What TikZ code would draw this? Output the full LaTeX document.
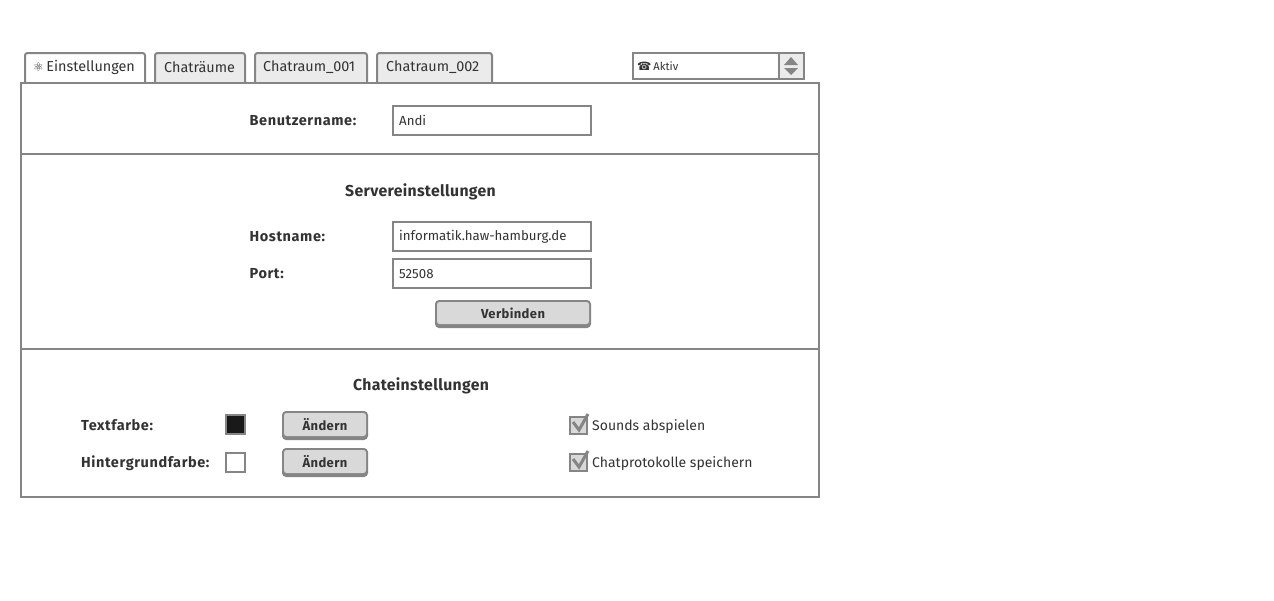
\documentclass[tikz,border=0pt]{standalone}
\usepackage{fontspec}
\setmainfont{Fira Sans}
\newfontfamily\symfont{DejaVu Sans}
\definecolor{edge}{HTML}{858585}
\definecolor{tabgrey}{HTML}{EBEBEB}
\definecolor{btngrey}{HTML}{D9D9D9}
\definecolor{ink}{HTML}{333333}
\tikzset{
  x=1pt,y=-1pt,
  panel/.style={draw=edge,line width=2pt,fill=white},
  tabshape/.style={draw=edge,line width=2pt,rounded corners=2.5pt},
  lbl/.style={inner sep=0,anchor=west,text=ink,font=\fontsize{14}{16}\selectfont},
  tablbl/.style={lbl,font=\fontsize{14.4}{16}\selectfont},
  bold/.style={lbl,font=\fontsize{14.5}{16}\selectfont\bfseries\addfontfeature{LetterSpace=4}},
  heading/.style={inner sep=0,text=ink,font=\fontsize{15.8}{18}\selectfont\bfseries\addfontfeature{LetterSpace=2}},
  field/.style={lbl,font=\fontsize{13.25}{15}\selectfont},
  btntext/.style={inner sep=0,text=ink,font=\fontsize{13}{15}\selectfont\bfseries\addfontfeature{LetterSpace=3}},
  input/.style={draw=edge,line width=2pt,fill=white},
  tick/.style={draw=edge,line width=3pt,line cap=butt},
}
\newcommand{\tabbox}[7]{%
  \draw[tabshape,fill=#5] (#1,83) -- (#1,#3) -- (#2,#3) -- (#2,83);
  \node[tablbl] (#4) at (#1+#7,67.5) {#6};}
\newcommand{\btnbox}[6]{%
  \fill[edge,rounded corners=4pt] (#1,#3) rectangle (#2,#4);
  \fill[btngrey,rounded corners=2.5pt] (#1+2,#3+2) rectangle (#2-2,#4-4);
  \node[btntext] (#5) at ({(#1+#2)/2},{(#3+#4)/2-1}) {#6};}
\newcommand{\checkbox}[2]{%
  \draw[draw=edge,line width=2pt,fill=btngrey] (#1,#2) rectangle (#1+17,#2+17);
  \draw[tick] (#1+3,#2+5) -- (#1+9,#2+13) -- (#1+18,#2-3);}
\begin{document}
\begin{tikzpicture}
\useasboundingbox (0,0) rectangle (1274,600);
\fill[white] (0,0) rectangle (1274,600);
% tabs
\tabbox{155}{245}{53}{tabb}{tabgrey}{Chaträume}{9}
\tabbox{255}{367}{53}{tabc}{tabgrey}{Chatraum\_001}{8}
\tabbox{377}{492}{53}{tabd}{tabgrey}{Chatraum\_002}{9}
\tabbox{25}{145}{53}{taba}{white}{{\symfont\fontsize{12}{12}\selectfont\textcolor{ink}{⚛}}\,Einstellungen}{8}
% main panel
\node[panel,fill=none,minimum width=798pt,minimum height=414pt,inner sep=0,anchor=north west] (main) at (20,82) {};
\draw[edge,line width=2pt] (21,154) coordinate (sepa) -- (819,154) coordinate (sepb);
\draw[edge,line width=2pt] (21,349) coordinate (sepc) -- (819,349) coordinate (sepd);
% status selector
\node[input,minimum width=171pt,minimum height=26pt,inner sep=0,anchor=north west] (status) at (632,52) {};
\node[draw=edge,line width=2pt,fill=tabgrey,minimum width=25pt,minimum height=26pt,inner sep=0,anchor=north west] (spin) at (778,52) {};
\fill[edge] (784,65) -- (791,57) -- (798,65) -- cycle;
\fill[edge] (784,68) -- (791,75) -- (798,68) -- cycle;
\node[lbl,font=\fontsize{11.2}{13}\selectfont] (statustext) at (637,66.5) {{\symfont\fontsize{11.5}{12}\selectfont ☎}\,Aktiv};
% user
\node[bold] (userlbl) at (249.5,120.5) {Benutzername:};
\node[input,minimum width=198pt,minimum height=29pt,inner sep=0,anchor=north west] (userin) at (392,105) {};
\node[field] (userval) at (399,120.5) {Andi};
% server
\node[heading] (serverhead) at (420.5,191.5) {Servereinstellungen};
\node[bold] (hostlbl) at (249.5,236.5) {Hostname:};
\node[input,minimum width=198pt,minimum height=29pt,inner sep=0,anchor=north west] (hostin) at (392,221) {};
\node[field] (hostval) at (399,237) {informatik.haw-hamburg.de};
\node[bold] (portlbl) at (249.5,273.5) {Port:};
\node[input,minimum width=198pt,minimum height=29pt,inner sep=0,anchor=north west] (portin) at (392,258) {};
\node[field] (portval) at (399,274) {52508};
\btnbox{435}{591}{300}{328}{connect}{Verbinden}
% chat
\node[heading] (chathead) at (421,385.5) {Chateinstellungen};
\node[bold] (fglbl) at (81,425.5) {Textfarbe:};
\node[draw=edge,line width=2pt,fill=black!90,minimum size=19pt,inner sep=0,anchor=north west] (fgswatch) at (225,414) {};
\btnbox{282}{368}{411}{440}{fgbtn}{Ändern}
\node[bold] (bglbl) at (81,463.5) {Hintergrundfarbe:};
\node[draw=edge,line width=2pt,fill=white,minimum size=19pt,inner sep=0,anchor=north west] (bgswatch) at (225,452) {};
\btnbox{282}{368}{448}{477}{bgbtn}{Ändern}
\checkbox{570}{417}
\node[lbl] (sounds) at (592,426.5) {Sounds abspielen};
\checkbox{570}{454}
\node[lbl] (logs) at (592,463.5) {Chatprotokolle speichern};
\end{tikzpicture}
\end{document}
